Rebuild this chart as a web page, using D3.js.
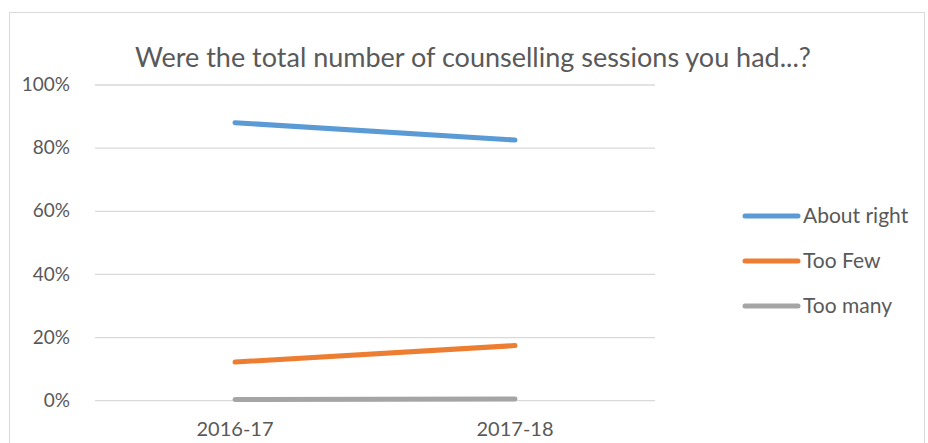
<!DOCTYPE html>
<html>
<head>
<meta charset="utf-8">
<script src="https://cdn.jsdelivr.net/npm/d3@7"></script>
<style>
  html, body { margin: 0; padding: 0; background: #fff; }
  svg { display: block; }
  text { font-family: "Lato", "Open Sans", sans-serif; fill: #595959; }
</style>
</head>
<body>
<svg id="chart" width="928" height="443"></svg>
<script>
// Survey results: share of respondents per answer, by year
const years = ["2016-17", "2017-18"];
const aboutRight = [0.879, 0.824];
const tooFew = [0.121, 0.173];
const tooMany = [0.002, 0.004];
const seriesNames = ["About right", "Too Few", "Too many"];
const seriesColors = ["#5B9BD5", "#ED7D31", "#A5A5A5"];
const yTicks = [0, 0.2, 0.4, 0.6, 0.8, 1.0];
const title = "Were the total number of counselling sessions you had...?";

const series = [aboutRight, tooFew, tooMany].map((vals, i) => ({
  name: seriesNames[i],
  color: seriesColors[i],
  values: vals.map((v, j) => ({ year: years[j], value: v }))
}));

const svg = d3.select("#chart");

// chart area frame
svg.append("rect")
  .attr("x", 9.5).attr("y", 12.5)
  .attr("width", 915).attr("height", 440)
  .attr("fill", "#fff")
  .attr("stroke", "#D9D9D9").attr("stroke-width", 1);

const plot = { left: 95, right: 655, top: 84.5, bottom: 400.2 };

const x = d3.scaleBand().domain(years).range([plot.left, plot.right]);
const y = d3.scaleLinear().domain([0, 1]).range([plot.bottom, plot.top]);

// title
svg.append("text")
  .attr("x", 473).attr("y", 67)
  .attr("text-anchor", "middle")
  .style("font-size", "27px")
  .text(title);

// horizontal gridlines + percentage labels
const yAxis = d3.axisLeft(y)
  .tickValues(yTicks)
  .tickSize(-(plot.right - plot.left))
  .tickPadding(25)
  .tickFormat(d3.format(".0%"));

const gy = svg.append("g")
  .attr("transform", `translate(${plot.left},0)`)
  .call(yAxis);
gy.select(".domain").remove();
gy.selectAll(".tick line").attr("stroke", "#D9D9D9").attr("stroke-width", 1.3);
gy.selectAll(".tick text")
  .attr("fill", "#595959")
  .style("font-size", "19px")
  .style("font-family", "Lato, 'Open Sans', sans-serif");

// category labels
const xAxis = d3.axisBottom(x).tickSize(0).tickPadding(0);
const gx = svg.append("g")
  .attr("transform", `translate(0,${plot.bottom + 22})`)
  .call(xAxis);
gx.select(".domain").remove();
gx.selectAll(".tick text")
  .attr("fill", "#595959")
  .attr("dy", "0.71em")
  .style("font-size", "20px")
  .style("font-family", "Lato, 'Open Sans', sans-serif");

// series lines
const line = d3.line()
  .x(d => x(d.year) + x.bandwidth() / 2)
  .y(d => y(d.value));

svg.append("g")
  .selectAll("path")
  .data(series)
  .join("path")
  .attr("d", d => line(d.values))
  .attr("fill", "none")
  .attr("stroke", d => d.color)
  .attr("stroke-width", 5)
  .attr("stroke-linecap", "round");

// legend
const legend = svg.append("g")
  .selectAll("g")
  .data(series)
  .join("g")
  .attr("transform", (d, i) => `translate(745,${216 + i * 45})`);

legend.append("line")
  .attr("x1", 0).attr("x2", 53)
  .attr("stroke", d => d.color)
  .attr("stroke-width", 5)
  .attr("stroke-linecap", "round");

legend.append("text")
  .attr("x", 58).attr("dy", "0.35em")
  .style("font-size", "21px")
  .text(d => d.name);
</script>
</body>
</html>
